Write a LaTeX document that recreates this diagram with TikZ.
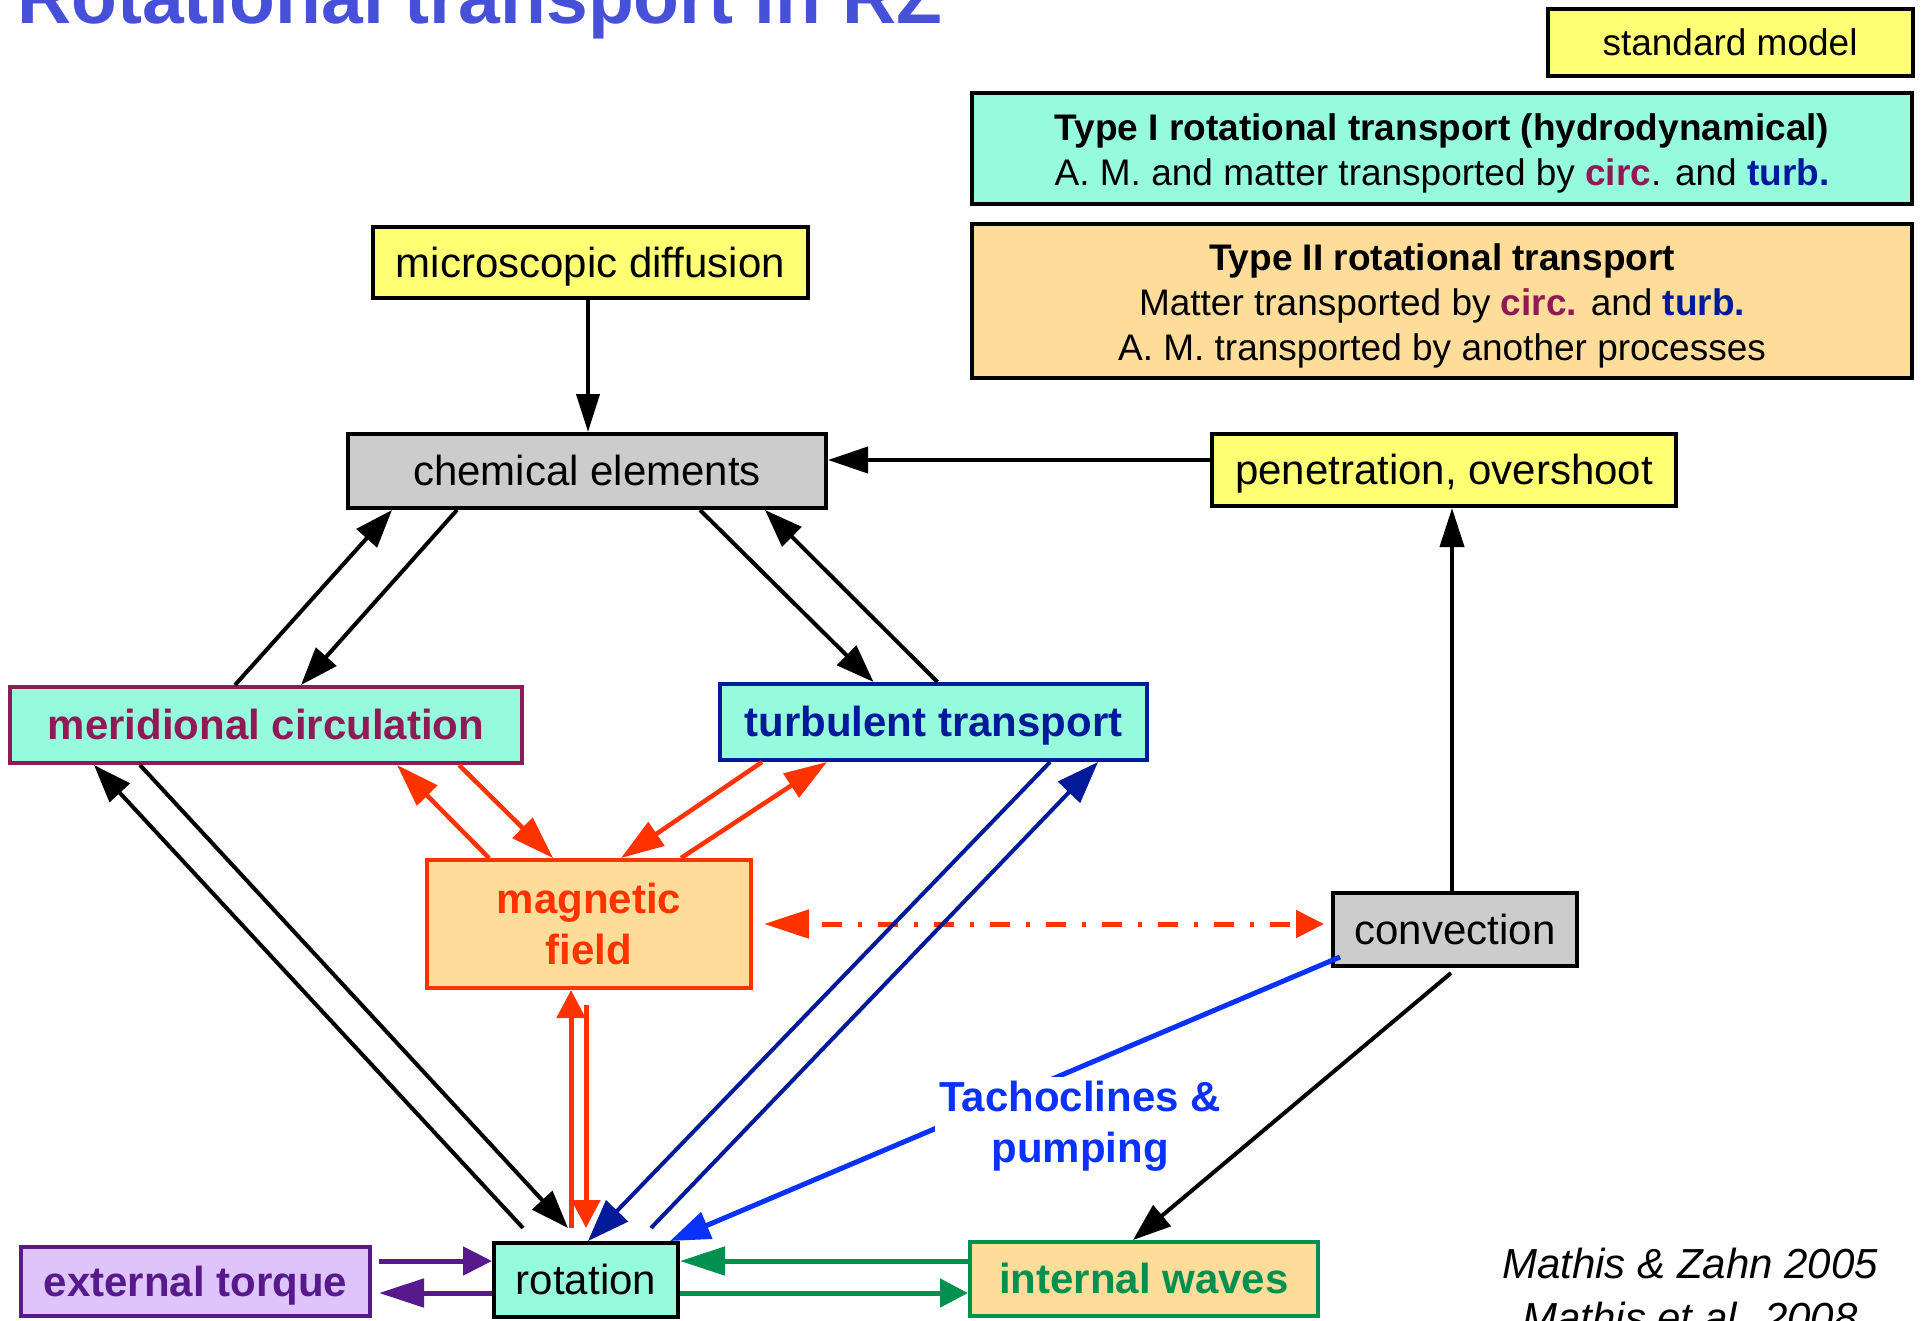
\documentclass[tikz,border=0pt]{standalone}
\usepackage{fontspec}
\setmainfont{Liberation Sans}
\usetikzlibrary{arrows.meta,calc}

\definecolor{stdyellow}{HTML}{FFFF73}
\definecolor{aqua}{HTML}{96FADC}
\definecolor{peach}{HTML}{FEDC9A}
\definecolor{chemgray}{HTML}{CCCCCC}
\definecolor{lavender}{HTML}{DFC4FA}
\definecolor{circmaroon}{HTML}{901A55}
\definecolor{turbnavy}{HTML}{001A99}
\definecolor{magred}{HTML}{FF3300}
\definecolor{torquepurple}{HTML}{561A8C}
\definecolor{wavegreen}{HTML}{009150}
\definecolor{tachoblue}{HTML}{0A32FF}
\definecolor{titleblue}{HTML}{4650D8}

\tikzset{
  box/.style={draw, line width=4pt, inner sep=0pt, align=center, font=\fontsize{42pt}{51pt}\selectfont},
  bfbox/.style={box, font=\bfseries\fontsize{42pt}{51pt}\selectfont},
  oneline/.style={text height=38pt, text depth=9pt},
  legendbox/.style={box, font=\fontsize{37pt}{45pt}\selectfont},
  link/.style={line width=4pt, ->},
  redlink/.style={magred, line width=4.5pt, -{Triangle[length=43pt,width=28pt]}},
  navylink/.style={turbnavy, line width=4pt, -{Triangle[length=42pt,width=30pt]}},
  greenlink/.style={wavegreen, line width=5pt},
  purplelink/.style={torquepurple, line width=5pt},
}

\begin{document}
\begin{tikzpicture}[x=1pt, y=-1pt, >={Triangle[length=38pt,width=27pt]}]
\useasboundingbox (0,0) rectangle (1921,1320);

\node[anchor=base west, inner sep=0pt, text=titleblue, font=\bfseries\fontsize{75pt}{80pt}\selectfont] (title) at (17,23) {Rotational transport in RZ};

% legend
\node[legendbox, text height=33.5pt, text depth=8pt, fill=stdyellow, minimum width=365pt, minimum height=67pt] (stdmodel) at (1730,42.5) {standard model};
\node[legendbox, fill=aqua, minimum width=940pt, minimum height=111pt] (typeone) at (1442,148.5)
  {\rule{0pt}{36pt}\textbf{Type I rotational transport (hydrodynamical)}\\
   A. M. and matter transported by \textcolor{circmaroon}{\textbf{circ}}. and \textcolor{turbnavy}{\textbf{turb.}}};
\node[legendbox, fill=peach, minimum width=940pt, minimum height=154pt] (typetwo) at (1442,301)
  {\rule{0pt}{36pt}\textbf{Type II rotational transport}\\
   Matter transported by \textcolor{circmaroon}{\textbf{circ.}} and \textcolor{turbnavy}{\textbf{turb.}}\\
   A. M. transported by another processes};

% processes
\node[box, oneline, fill=stdyellow, minimum width=435pt, minimum height=71pt] (micro) at (590.5,262.5) {microscopic diffusion};
\node[box, oneline, fill=chemgray, minimum width=478pt, minimum height=74pt] (chem) at (587,471) {chemical elements};
\node[box, oneline, fill=stdyellow, minimum width=464pt, minimum height=72pt] (pen) at (1444,470) {penetration, overshoot};
\node[bfbox, oneline, fill=aqua, draw=circmaroon, text=circmaroon, minimum width=512pt, minimum height=76pt] (merid) at (266,725) {meridional circulation};
\node[bfbox, oneline, fill=aqua, draw=turbnavy, text=turbnavy, minimum width=427pt, minimum height=76pt] (turb) at (933.5,722) {turbulent transport};
\node[bfbox, fill=peach, draw=magred, text=magred, minimum width=324pt, minimum height=128pt] (mag) at (589,924) {magnetic\\field};
\node[box, oneline, fill=chemgray, minimum width=244pt, minimum height=73pt] (conv) at (1455,929.5) {convection};
\node[box, oneline, fill=aqua, minimum width=184pt, minimum height=74pt] (rot) at (586,1280) {rotation};
\node[bfbox, oneline, fill=lavender, draw=torquepurple, text=torquepurple, minimum width=349pt, minimum height=69pt] (ext) at (195.5,1281.5) {external torque};
\node[bfbox, oneline, fill=peach, draw=wavegreen, text=wavegreen, minimum width=348pt, minimum height=74pt] (iw) at (1144,1279) {internal waves};

\node[anchor=base, inner sep=0pt, font=\itshape\fontsize{42pt}{51pt}\selectfont] (citeone) at (1690,1278) {Mathis \& Zahn 2005};
\node[anchor=base, inner sep=0pt, font=\itshape\fontsize{42pt}{51pt}\selectfont] (citetwo) at (1690,1332) {Mathis et al. 2008};

% black connectors
\draw[link, -{Triangle[length=38pt,width=23pt]}] ([xshift=-2.5pt]micro.south) -- ([xshift=-2.5pt]micro.south |- chem.north);
\draw[link, -{Triangle[length=40pt,width=26pt]}] ([yshift=10pt]pen.west) -- ([yshift=10pt]pen.west -| chem.east);
\draw[link, -{Triangle[length=39pt,width=24pt]}] ([xshift=-3pt]conv.north) -- ([xshift=-3pt]conv.north |- pen.south);

\draw[link] ([xshift=-31pt]merid.north) -- ([xshift=-195pt]chem.south);
\draw[link] ([xshift=-130pt]chem.south) -- ([xshift=35pt]merid.north);
\draw[link] ([xshift=113pt]chem.south) -- ([xshift=-60pt]turb.north);
\draw[link] ([xshift=4pt]turb.north) -- ([xshift=178pt]chem.south);

\draw[link] ([xshift=-63pt,yshift=13pt]rot.north) -- ([xshift=-172pt]merid.south);
\draw[link] ([xshift=-126pt]merid.south) -- ([xshift=-18pt,yshift=13pt]rot.north);

% magnetic field
\draw[redlink] ([xshift=-100pt]mag.north) -- ([xshift=131pt]merid.south);
\draw[redlink] ([xshift=193pt]merid.south) -- ([xshift=-36pt]mag.north);
\draw[redlink] ([xshift=-171.5pt]turb.south) -- ([xshift=32pt]mag.north);
\draw[redlink] ([xshift=92pt]mag.north) -- ([xshift=-106.5pt]turb.south);
\draw[redlink, line width=5pt, -{Triangle[length=28pt,width=28pt]}] ([xshift=-15pt,yshift=13pt]rot.north) -- ([xshift=-15pt]rot.north |- mag.south);
\draw[redlink, line width=5pt, -{Triangle[length=28pt,width=28pt]}] ([xshift=-3pt,yshift=-15pt]mag.south) -- ([xshift=-3pt,yshift=13pt]mag.south |- rot.north);
\draw[magred, line width=5pt, {Triangle[length=45pt,width=28pt]}-{Triangle[length=28pt,width=27pt]},
  dash pattern=on 20pt off 16pt on 4pt off 16pt, dash phase=42pt, shorten <=11pt, shorten >=7pt]
  (mag.east) -- (mag.east -| conv.west);

% turbulent transport
\draw[navylink] ([xshift=116.5pt]turb.south) -- ([xshift=2pt]rot.north);
\draw[navylink] ([xshift=65pt,yshift=13pt]rot.north) -- ([xshift=164.5pt]turb.south);

% tachoclines
\draw[tachoblue, line width=5pt, -{Triangle[length=40pt,width=28pt]}] ([xshift=9pt,yshift=11pt]conv.south west) -- ([xshift=-10pt]rot.north east);
\node[fill=white, inner sep=4pt, align=center, text=tachoblue, font=\bfseries\fontsize{42pt}{51pt}\selectfont] (tacho) at (1080,1126.5) {Tachoclines \&\\pumping};
\draw[link] ([xshift=-4pt,yshift=-5pt]conv.south) -- ([xshift=-11pt]iw.north);

% bottom row
\draw[greenlink, -{Triangle[length=45pt,width=28pt]}] ([yshift=18pt]iw.west) -- ([yshift=18pt]iw.west -| rot.east);
\draw[greenlink, -{Triangle[length=28pt,width=28pt]}] ([yshift=-13pt]rot.east) -- ([yshift=-13pt]rot.east -| iw.west);
\draw[purplelink, -{Triangle[length=29pt,width=28pt]}] ([xshift=7pt,yshift=19pt]rot.west -| ext.east) -- ([yshift=19pt]rot.west);
\draw[purplelink, -{Triangle[length=45pt,width=28pt]}] ([yshift=-13pt]rot.west) -- ([xshift=7pt,yshift=-13pt]rot.west -| ext.east);

\end{tikzpicture}
\end{document}
